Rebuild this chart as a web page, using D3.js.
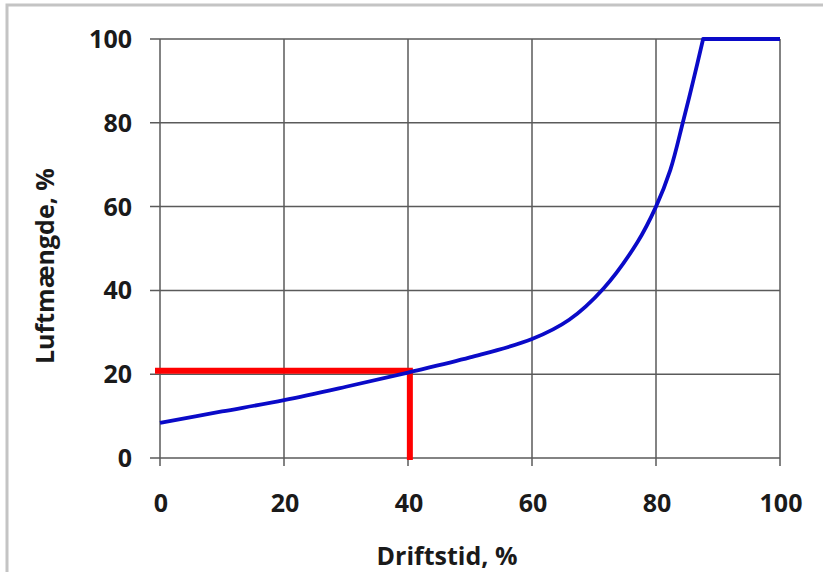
<!DOCTYPE html>
<html>
<head>
<meta charset="utf-8">
<script src="https://cdn.jsdelivr.net/npm/d3@7"></script>
<style>
  body { margin: 0; background: #fff; }
  text { font-family: "Open Sans", "Liberation Sans", sans-serif; font-weight: bold; fill: #1a1a1a; }
</style>
</head>
<body>
<svg id="chart"></svg>
<script>
// curve: driftstid (%) -> luftmaengde (%)
const driftstid = [0, 10, 20, 30, 40, 50, 60, 66, 71.5, 77, 80, 82.3, 84.4, 86, 87.6, 100];
const luftmaengde = [8.4, 11.1, 13.8, 17, 20.4, 24, 28.4, 33, 40.4, 51.5, 60, 68.7, 80.5, 90, 100, 100];
const xTicks = [0, 20, 40, 60, 80, 100];
const yTicks = [0, 20, 40, 60, 80, 100];
// red marker at the 40 % reading
const markX = 40.3;
const markY = 20.8;

const width = 823;
const height = 572;
const plotLeft = 160, plotRight = 780, plotTop = 39, plotBottom = 458;
const fontSize = 25;

const svg = d3.select('#chart')
  .attr('width', width)
  .attr('height', height);

// grey frame round the picture
svg.append('path')
  .attr('d', `M7,${height} V5 H${width}`)
  .attr('fill', 'none')
  .attr('stroke', '#c4c4c4')
  .attr('stroke-width', 3);

const x = d3.scaleLinear().domain([0, 100]).range([plotLeft, plotRight]);
const y = d3.scaleLinear().domain([0, 100]).range([plotBottom, plotTop]);

// grid
svg.append('g')
  .selectAll('line')
  .data(xTicks)
  .join('line')
  .attr('x1', (d) => x(d))
  .attr('x2', (d) => x(d))
  .attr('y1', y(100))
  .attr('y2', y(0) + 8)
  .attr('stroke', '#5a5a5a')
  .attr('stroke-width', 1.5);

svg.append('g')
  .selectAll('line')
  .data(yTicks)
  .join('line')
  .attr('x1', x(0) - 10)
  .attr('x2', x(100))
  .attr('y1', (d) => y(d))
  .attr('y2', (d) => y(d))
  .attr('stroke', '#5a5a5a')
  .attr('stroke-width', 1.5);

// tick labels
svg.append('g')
  .selectAll('text')
  .data(yTicks)
  .join('text')
  .attr('x', 132)
  .attr('y', (d) => y(d))
  .attr('dy', '0.36em')
  .attr('text-anchor', 'end')
  .attr('font-size', fontSize)
  .text((d) => d);

svg.append('g')
  .selectAll('text')
  .data(xTicks)
  .join('text')
  .attr('x', (d) => x(d) + 1)
  .attr('y', 512)
  .attr('text-anchor', 'middle')
  .attr('font-size', fontSize)
  .text((d) => d);

// axis titles
svg.append('text')
  .attr('x', 447)
  .attr('y', 565)
  .attr('text-anchor', 'middle')
  .attr('font-size', fontSize)
  .text('Driftstid, %');

svg.append('text')
  .attr('transform', 'translate(54,364) rotate(-90)')
  .attr('text-anchor', 'start')
  .attr('font-size', fontSize)
  .text('Luftmængde, %');

// red marker
svg.append('path')
  .attr('d', `M${x(0) - 5},${y(markY)} H${x(markX)} V${y(0) + 2}`)
  .attr('fill', 'none')
  .attr('stroke', '#ff0000')
  .attr('stroke-width', 6);

// curve: smooth rise, then a straight flat part at 100 %
const points = driftstid.map((d, i) => [d, luftmaengde[i]]);
const last = points.length - 1;

const smooth = d3.line()
  .x((d) => x(d[0]))
  .y((d) => y(d[1]))
  .curve(d3.curveCatmullRom.alpha(0.5));

const straight = d3.line()
  .x((d) => x(d[0]))
  .y((d) => y(d[1]));

svg.append('path')
  .attr('d', smooth(points.slice(0, last)) + straight(points.slice(last - 1)).replace('M', 'L'))
  .attr('fill', 'none')
  .attr('stroke', '#0a0ac8')
  .attr('stroke-width', 3.8)
  .attr('stroke-linejoin', 'round');
</script>
</body>
</html>
